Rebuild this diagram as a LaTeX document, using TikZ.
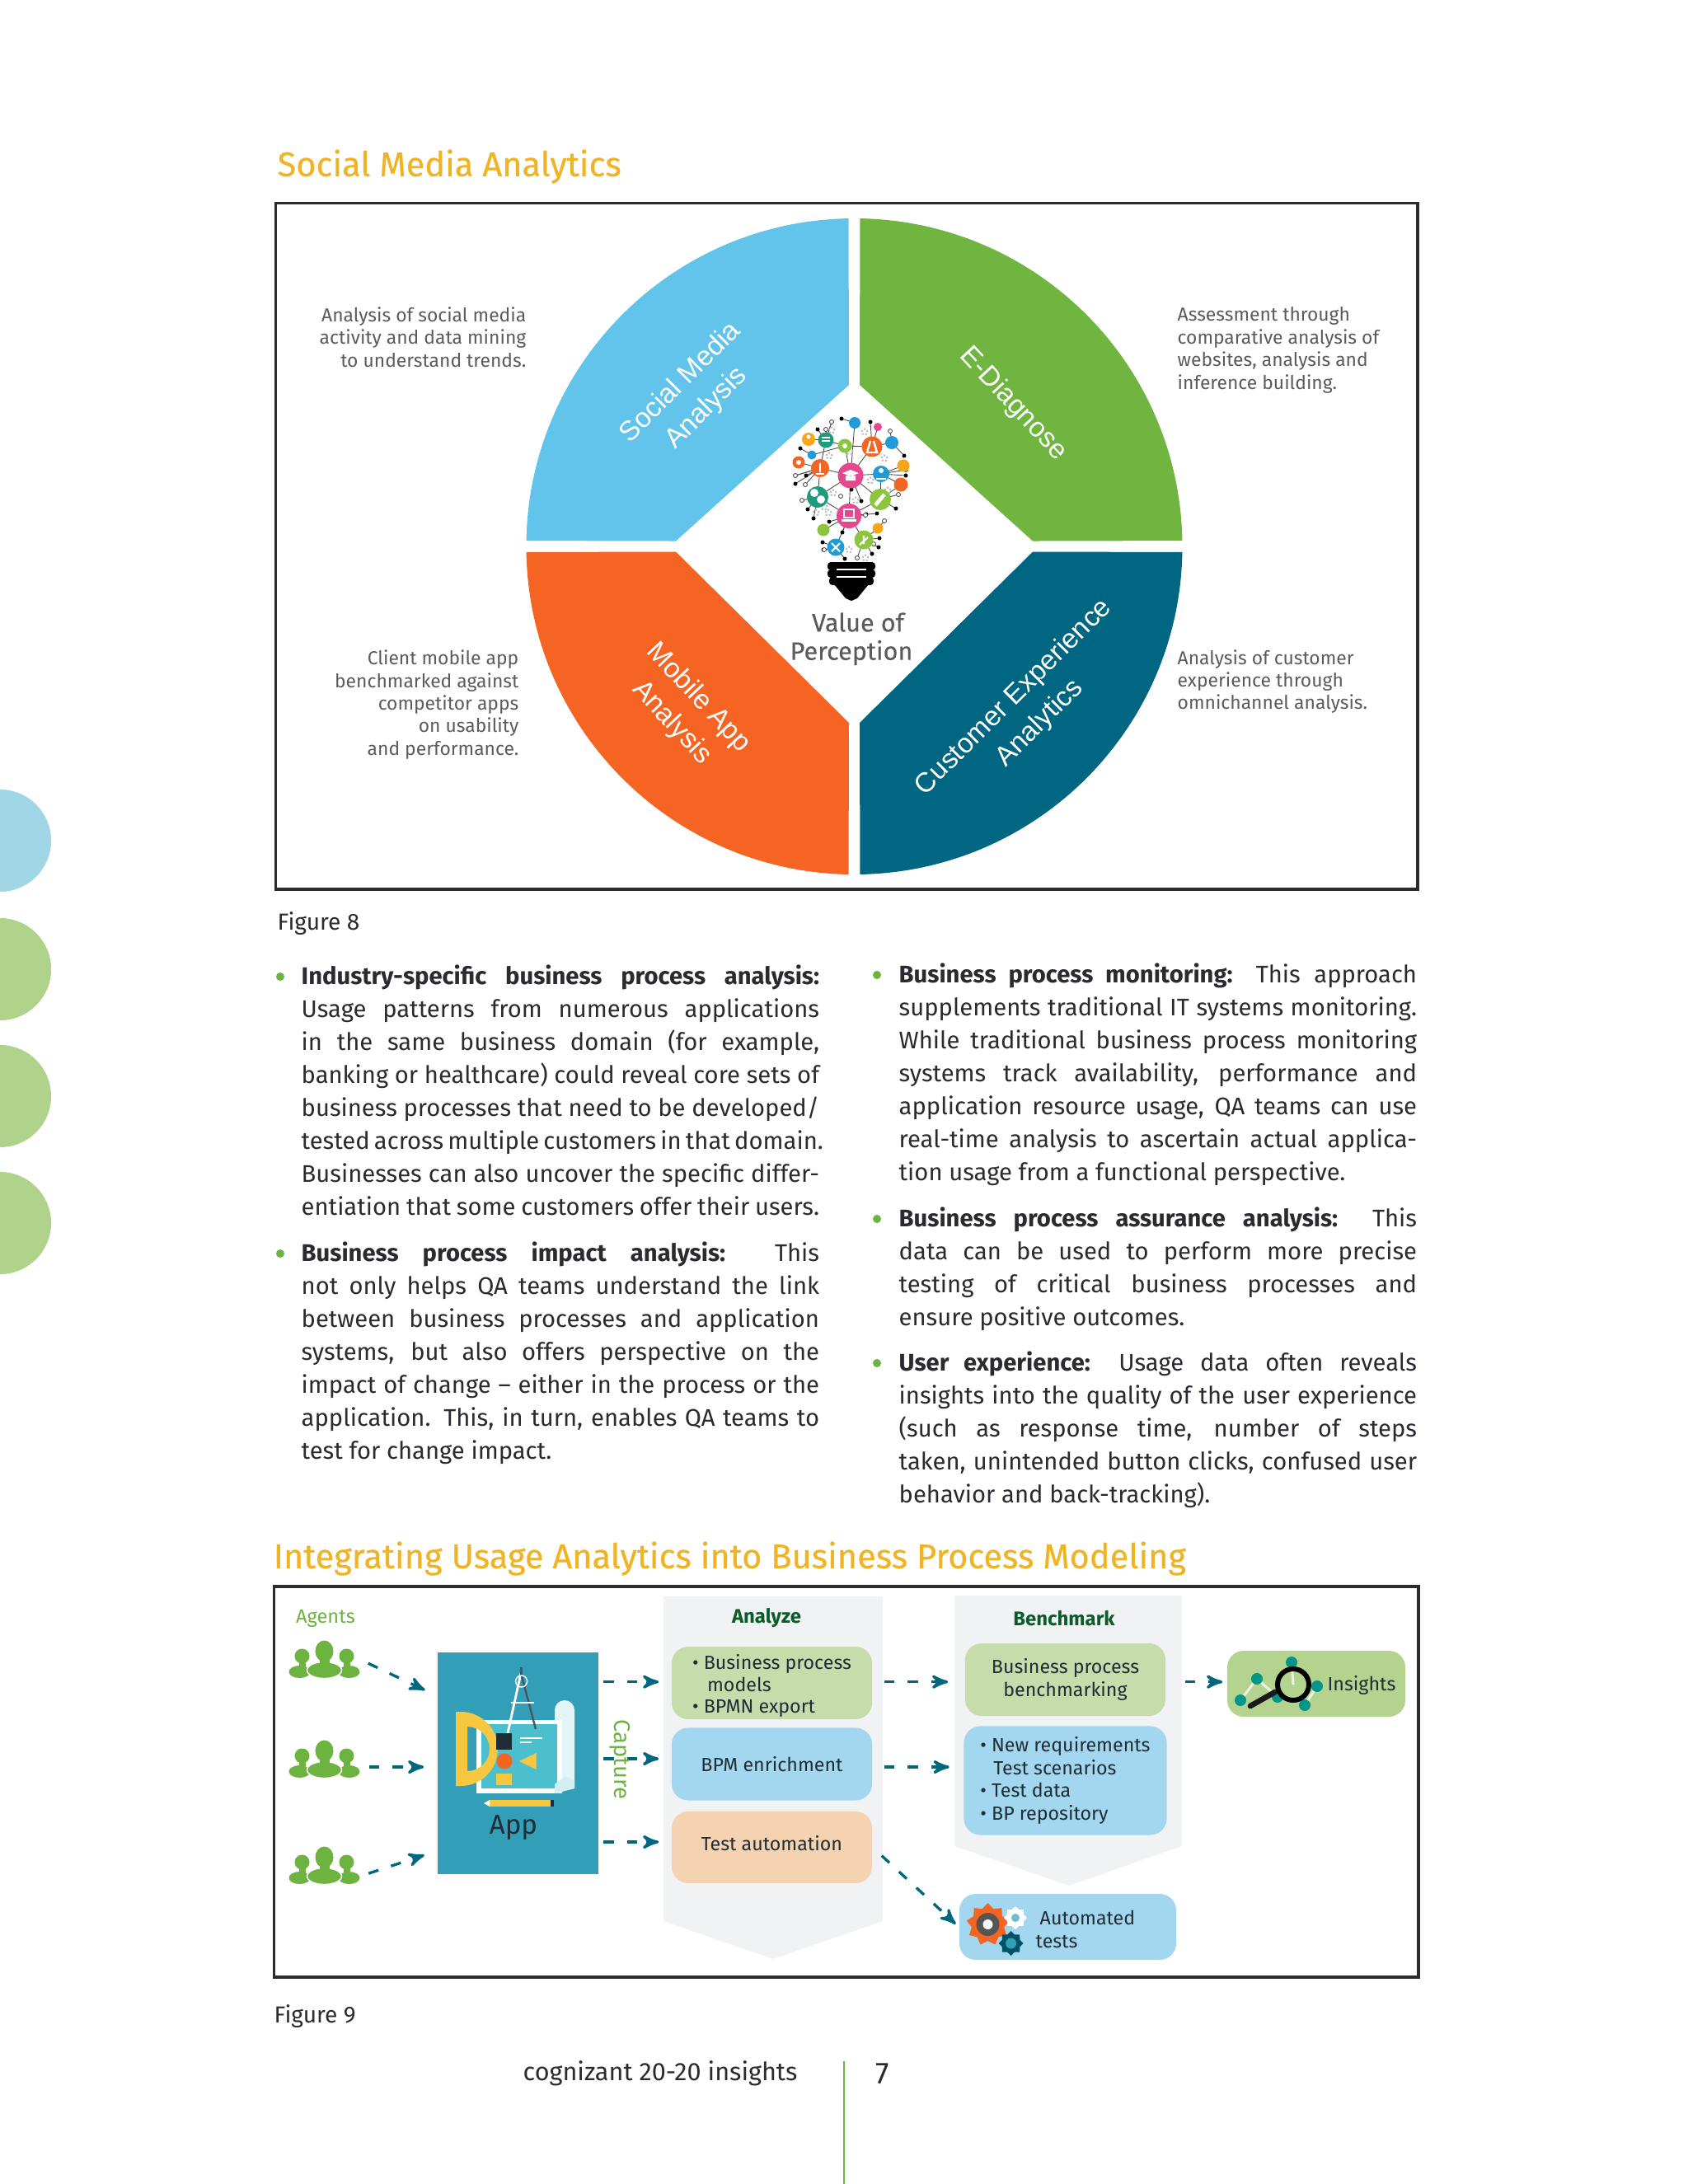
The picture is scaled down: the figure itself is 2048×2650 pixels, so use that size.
\documentclass[tikz,border=0pt]{standalone}
\usepackage{fontspec}
\setmainfont{Fira Sans}
\newfontfamily\sectorfont{Liberation Sans}
\newfontfamily\heavyfont[FakeBold=0.35]{Fira Sans}
\usetikzlibrary{arrows,positioning,shapes}
\definecolor{titlegold}{HTML}{F0B323}
\definecolor{framegrey}{HTML}{2B2B2B}
\definecolor{notegrey}{HTML}{5A5B5D}
\definecolor{bodyink}{HTML}{2A2A30}
\definecolor{skyslice}{HTML}{62C4EA}
\definecolor{grassslice}{HTML}{70B540}
\definecolor{orangeslice}{HTML}{F56423}
\definecolor{tealslice}{HTML}{006681}
\definecolor{leafgreen}{HTML}{6CB33F}
\definecolor{bluedot}{HTML}{A1D6E6}
\definecolor{greendot}{HTML}{AFD38B}
\definecolor{arrowteal}{HTML}{00677F}
\definecolor{appblue}{HTML}{339EB8}
\definecolor{chevgrey}{HTML}{F1F2F4}
\definecolor{headgreen}{HTML}{0B5C2A}
\definecolor{boxgreen}{HTML}{C6DCAB}
\definecolor{boxblue}{HTML}{A3D7F0}
\definecolor{boxpeach}{HTML}{F5D2B0}
\definecolor{boxolive}{HTML}{B4D38F}
\definecolor{boxink}{HTML}{1E2D36}
\definecolor{bulbpink}{HTML}{E6478F}
\definecolor{bulblime}{HTML}{8CC63F}
\definecolor{bulbjade}{HTML}{1E9A7E}
\definecolor{bulborange}{HTML}{F26522}
\definecolor{bulbblue}{HTML}{1F9CD8}
\definecolor{bulbyellow}{HTML}{F9A51A}
\definecolor{rulergold}{HTML}{F7C740}
\definecolor{sheetteal}{HTML}{4CBFCF}
\definecolor{magteal}{HTML}{009688}
\newcommand{\lline}[1]{\makebox[6.28cm][s]{#1}\\}
\tikzset{
    %Define standard arrow tip
    >=stealth',
    %Define style for text
    sectiontitle/.style={
             anchor=west, inner sep=0pt,
             text=titlegold,
             font=\heavyfont\fontsize{11.8}{14}\selectfont},
    figcaption/.style={
             anchor=west, inner sep=0pt,
             text=framegrey,
             font=\fontsize{8}{10}\selectfont},
    sidenote/.style={
             inner sep=0pt,
             text=notegrey,
             font=\fontsize{6.5}{7.8}\selectfont},
    slicelabel/.style={
             align=center, inner sep=0pt,
             text=white,
             font=\sectorfont\fontsize{9.5}{12.6}\selectfont},
    bodytext/.style={
             anchor=north west, inner sep=0pt, align=left,
             text=bodyink,
             font=\fontsize{8.3}{11.38}\selectfont},
    bulletdot/.style={
             circle, fill=leafgreen, inner sep=0pt,
             minimum size=0.1cm},
    %Define style for boxes
    frame/.style={
             draw=framegrey, line width=1pt},
    chevron/.style={
             fill=chevgrey},
    flowbox/.style={
             rectangle, rounded corners=0.2cm,
             inner sep=0pt, align=left,
             text=boxink,
             font=\fontsize{6.6}{7.9}\selectfont},
    headnode/.style={
             inner sep=0pt,
             text=headgreen,
             font=\bfseries\fontsize{6.8}{8}\selectfont},
    %Define style for the bulb
    bulbhub/.style={
             circle, inner sep=0pt},
    bulbdot/.style={
             circle, fill=black, inner sep=0pt,
             minimum size=0.05cm},
    bulbring/.style={
             circle, fill=white, draw=black!70, line width=0.25pt, inner sep=0pt,
             minimum size=0.05cm},
    bulbcog/.style={
             circle, draw=black!25, line width=0.6pt, dash pattern=on 0.6pt off 0.6pt, inner sep=0pt,
             minimum size=0.07cm},
    bulbwire/.style={
             draw=black!70, line width=0.25pt},
    % Define arrow style
    flowarrow/.style={
            ->,
            arrowteal,
            line width=0.95pt,
            dash pattern=on 0.126cm off 0.16cm}
}
\begin{document}
\begin{tikzpicture}[x=0.01cm, y=-0.01cm]
    \useasboundingbox (0,0) rectangle (2048,2650);
    % side discs
    \begin{scope}
        \clip (0,0) rectangle (2048,2650);
        \node[circle, fill=bluedot, minimum size=1.24cm] (discA) at (0,1020) {};
        \foreach \n/\y in {discB/1176, discC/1330, discD/1484}
            \node[circle, fill=greendot, minimum size=1.24cm] (\n) at (0,\y) {};
    \end{scope}
    \node[sectiontitle] (titleA) at (336,202) {Social Media Analytics};
    \draw[frame] (334.5,246.5) rectangle (1720,1079);
    % wheel
    \coordinate (hub) at (1036.5,663);
    \begin{scope}[shift={(hub)}, y=0.01cm]
        \fill[skyslice] (-6.5,196) -- (91:398) arc[start angle=91, end angle=179, radius=398] -- (-216.5,6.5) -- cycle;
        \fill[grassslice] (6.5,196) -- (89:398) arc[start angle=89, end angle=1, radius=398] -- (216.5,6.5) -- cycle;
        \fill[orangeslice] (-6.5,-214) -- (269:398) arc[start angle=269, end angle=181, radius=398] -- (-216.5,-6.5) -- cycle;
        \fill[tealslice] (6.5,-214) -- (271:398) arc[start angle=271, end angle=359, radius=398] -- (216.5,-6.5) -- cycle;
    \end{scope}
    \node[slicelabel, rotate=45] (sliceA) at (842,480) {Social Media\\Analysis};
    \node[slicelabel, rotate=-47] (sliceB) at (1229,490) {E-Diagnose};
    \node[slicelabel, rotate=-47] (sliceC) at (831,862) {Mobile App\\Analysis};
    \node[slicelabel, rotate=45] (sliceD) at (1246,862) {Customer Experience\\Analytics};
    \node[sidenote, anchor=east, align=right] (noteA) at (639,409) {Analysis of social media\\activity and data mining\\to understand trends.};
    \node[sidenote, anchor=west, align=left] (noteB) at (1428,425) {Assessment through\\comparative analysis of\\websites, analysis and\\inference building.};
    \node[sidenote, anchor=east, align=right] (noteC) at (630,855) {Client mobile app\\benchmarked against\\competitor apps\\on usability\\and performance.};
    \node[sidenote, anchor=west, align=left] (noteD) at (1428,827) {Analysis of customer\\experience through\\omnichannel analysis.};
    % bulb
    \foreach \n/\x/\y in {capb/1032/577, laptop/1030/626, torch/1068/606, globe/992/603, micro/995/568,
        flask/1058/542, chat/1002/534, atom/1025/541, note/981/533, water/985/552, gearb/969/561,
        abc/1037/513, eye/1065/518, sat/1082/537, bus/1096/565, people/1069/575, ruler/1093/588,
        search/1065/641, kick/1048/655, dna/999/643, scissors/1014/664}
        \coordinate (\n) at (\x,\y);
    \foreach \i/\x/\y in {1/1021/508, 2/1056/512, 3/992/521, 4/1009/512, 5/971/544, 6/965/577, 7/965/587,
        8/978/577, 9/1097/553, 10/1099/577, 11/1087/617, 12/1064/623, 13/1051/624, 14/1033/594, 15/1045/608,
        16/980/618, 17/987/629, 18/1006/633, 19/998/658, 20/999/667, 21/1022/646, 22/1025/678, 23/1066/664,
        24/1067/653, 25/1058/672}
        \coordinate (bd\i) at (\x,\y);
    \foreach \i/\x/\y in {1/1009/512, 2/965/577, 3/973/607, 4/977/588, 5/1020/602, 6/1050/625, 7/1073/632,
        8/1099/570, 9/1090/600, 10/1000/667, 11/1040/677, 12/1080/523, 13/1002/521, 14/1060/660}
        \coordinate (br\i) at (\x,\y);
    \foreach \a/\b in {capb/micro, capb/flask, capb/atom, capb/abc, capb/people, capb/torch, capb/globe, capb/laptop,
        laptop/torch, laptop/globe, laptop/kick, laptop/scissors, laptop/dna, micro/chat, chat/atom, atom/flask,
        micro/globe, flask/sat, people/bus, people/ruler, torch/ruler, torch/people, kick/search, micro/gearb,
        chat/note, flask/eye, atom/water, abc/bd1, flask/bd2, chat/bd3, chat/bd4, water/bd5, micro/bd6, micro/bd7,
        micro/bd8, sat/bd9, people/bd10, torch/bd11, laptop/bd12, laptop/bd13, capb/bd14, capb/bd15, globe/bd16,
        globe/bd17, laptop/bd18, scissors/bd19, scissors/bd20, laptop/bd21, scissors/bd22, kick/bd23, kick/bd24,
        kick/bd25, chat/br1, micro/br2, globe/br3, micro/br4, laptop/br6, search/br7, people/br8, torch/br9,
        scissors/br10, kick/br11, sat/br12, chat/br13, kick/br14}
        \path (\a) edge[bulbwire] (\b);
    \foreach \i in {1,...,25}
        \node[bulbdot] (bdot\i) at (bd\i) {};
    \foreach \i in {1,...,14}
        \node[bulbring] (bring\i) at (br\i) {};
    \foreach \i/\x/\y in {1/1009/522, 2/1049/524, 3/1006/553, 4/1073/556, 5/1005/622, 6/1056/583, 7/1011/598, 8/1038/607,
        9/990/622, 10/1030/667, 11/1050/677, 12/1077/595, 13/1031/548, 14/1000/615}
        \node[bulbcog] (bcog\i) at (\x,\y) {};
    \foreach \n/\c/\s in {capb/bulbpink/.31, laptop/bulbpink/.30, torch/bulblime/.26, globe/bulbjade/.26, micro/bulborange/.22,
        flask/bulborange/.25, chat/bulbjade/.19, atom/bulblime/.17, note/bulbyellow/.16, water/bulbblue/.11, gearb/bulborange/.15,
        abc/bulbblue/.14, eye/bulbpink/.10, sat/bulbblue/.16, bus/bulbyellow/.15, people/bulbblue/.20, ruler/bulborange/.17,
        search/bulbyellow/.13, kick/bulblime/.23, dna/bulblime/.15, scissors/bulbblue/.21}
        \node[bulbhub, fill=\c, minimum size=\s cm] (\n hub) at (\n) {};
    \fill[white] (1022,574) -- (1032,570) -- (1042,574) -- (1032,578) -- cycle (1026,577) rectangle (1038,583);
    \draw[white, line width=0.8pt] (1024,618) rectangle (1036,628);
    \fill[white] (1021,630) rectangle (1039,633);
    \draw[white, line width=0.7pt] (1056,535) -- (1052,549) -- (1064,549) -- (1060,535);
    \draw[white, line width=1.3pt] (1062,613) -- (1073,600);
    \fill[white] (988,598) circle [radius=0.05cm] (996,606) circle [radius=0.05cm];
    \draw[white, line width=0.7pt] (995,562) -- (995,573) (990,575) -- (1000,575);
    \draw[white, line width=0.6pt] (997,531) -- (1007,531) (997,535) -- (1007,535);
    \draw[white, line width=0.6pt] (1048,650) -- (1048,660) (1043,661) -- (1053,652);
    \draw[white, line width=0.6pt] (1009,659) -- (1019,669) (1019,659) -- (1009,669);
    \fill[white] (1069,571) circle [radius=0.03cm] (1063,580) rectangle (1075,582);
    \fill[white] (981,530) circle [radius=0.025cm] (1025,541) circle [radius=0.03cm] (969,561) circle [radius=0.03cm];
    % bulb base
    \fill[black, rounded corners=0.04cm] (1004,682) rectangle (1062,692);
    \fill[black, rounded corners=0.04cm] (1004,691) rectangle (1062,701);
    \fill[black, rounded corners=0.04cm] (1006,700) rectangle (1060,710);
    \fill[black] (1012,709) -- (1054,709) -- (1040,726) -- (1033,729) -- (1026,726) -- cycle;
    \draw[white, line width=0.4pt] (1015,691) -- (1051,691) (1015,700) -- (1051,700);
    \node[sidenote, font=\heavyfont\fontsize{8.7}{10}\selectfont] (valueA) at (1041,755) {Value of};
    \node[sidenote, font=\heavyfont\fontsize{8.7}{10}\selectfont] (valueB) at (1033,792) {Perception};
    \node[figcaption] (figA) at (336,1121) {Figure 8};
    % body columns
    \node[bulletdot] (dotA) at (340,1185) {};
    \node[bodytext] (itemA) at (365,1170) {%
        \lline{\textbf{Industry-specific business process analysis:}}
        \lline{Usage patterns from numerous applications}
        \lline{in the same business domain (for example,}
        \lline{banking or healthcare) could reveal core sets of}
        \lline{business processes that need to be developed/}
        \lline{tested across multiple customers in that domain.}
        \lline{Businesses can also uncover the specific differ-}
        \lline{entiation that some customers offer their users.}};
    \node[bulletdot] (dotB) at (340,1521) {};
    \node[bodytext] (itemB) at (365,1506) {%
        \lline{\textbf{Business process impact analysis:} This}
        \lline{not only helps QA teams understand the link}
        \lline{between business processes and application}
        \lline{systems, but also offers perspective on the}
        \lline{impact of change – either in the process or the}
        \lline{application. This, in turn, enables QA teams to}
        test for change impact.};
    \node[bulletdot] (dotC) at (1064,1183) {};
    \node[bodytext] (itemC) at (1090,1168) {%
        \lline{\textbf{Business process monitoring:} This approach}
        \lline{supplements traditional IT systems monitoring.}
        \lline{While traditional business process monitoring}
        \lline{systems track availability, performance and}
        \lline{application resource usage, QA teams can use}
        \lline{real-time analysis to ascertain actual applica-}
        tion usage from a functional perspective.};
    \node[bulletdot] (dotD) at (1064,1479) {};
    \node[bodytext] (itemD) at (1090,1464) {%
        \lline{\textbf{Business process assurance analysis:} This}
        \lline{data can be used to perform more precise}
        \lline{testing of critical business processes and}
        ensure positive outcomes.};
    \node[bulletdot] (dotE) at (1064,1654) {};
    \node[bodytext] (itemE) at (1090,1639) {%
        \lline{\textbf{User experience:} Usage data often reveals}
        \lline{insights into the quality of the user experience}
        \lline{(such as response time, number of steps}
        \lline{taken, unintended button clicks, confused user}
        behavior and back-tracking).};
    % second figure
    \node[sectiontitle] (titleB) at (331,1891) {Integrating Usage Analytics into Business Process Modeling};
    \draw[frame] (332.5,1925) rectangle (1721,2399);
    \node[sidenote, anchor=center, text=leafgreen, font=\fontsize{6.7}{8}\selectfont] (agentshead) at (395,1964) {Agents};
    % agents
    \foreach \n/\y in {agentA/2013.5, agentB/2134.5, agentC/2263.5} {
        \node[minimum width=0.85cm, minimum height=0.45cm, inner sep=0pt] (\n) at (393.5,\y) {};
        \begin{scope}[shift={(\n)}]
            \fill[leafgreen] (-27,-4) ellipse [x radius=0.09cm, y radius=0.09cm];
            \fill[leafgreen] (-30,15) ellipse [x radius=0.13cm, y radius=0.075cm];
            \fill[leafgreen] (-31,3) rectangle (-23,14);
            \fill[leafgreen] (27,-4) ellipse [x radius=0.09cm, y radius=0.09cm];
            \fill[leafgreen] (30,15) ellipse [x radius=0.13cm, y radius=0.075cm];
            \fill[leafgreen] (23,3) rectangle (31,14);
            \fill[leafgreen] (0,-10) ellipse [x radius=0.11cm, y radius=0.13cm];
            \fill[leafgreen, draw=white, line width=0.4pt] (0,13) ellipse [x radius=0.21cm, y radius=0.10cm];
            \fill[leafgreen] (-6,0) rectangle (6,6);
        \end{scope}
    }
    % app
    \node[rectangle, fill=appblue, minimum width=1.95cm, minimum height=2.69cm, inner sep=0pt] (app) at (628.5,2139.5) {};
    \begin{scope}[shift={(685,2075)}, y=0.01cm]
        \fill[white!85!sheetteal] (-12,0) arc[start angle=180, end angle=0, radius=12] -- (12,-95) -- (-12,-101) -- cycle;
    \end{scope}
    \fill[white] (578,2087) rectangle (682,2176);
    \fill[sheetteal] (584,2092) rectangle (676,2170);
    \fill[white!75!sheetteal] (673,2176) -- (697,2170) -- (697,2160) -- (685,2155) -- (673,2165) -- cycle;
    \draw[white, line width=0.8pt] (632,2030) -- (616,2103);
    \draw[boxink!80, line width=0.7pt] (632,2030) -- (650,2098);
    \draw[boxink!80, line width=1pt] (632.6,2023) -- (632.6,2034);
    \draw[white, line width=0.4pt] (632.6,2040) circle [radius=0.07cm];
    \draw[white, line width=0.4pt] (620,2066) -- (648,2066);
    \begin{scope}[shift={(553,2122)}, y=0.01cm]
        \fill[rulergold, even odd rule] (0,45) -- (6,45) arc[start angle=90, end angle=-90, radius=45] -- (0,-45) -- cycle
            (14,27) -- (14,-27) arc[start angle=-90, end angle=90, radius=27] -- cycle;
    \end{scope}
    \fill[boxink] (602,2103) rectangle (621,2123);
    \fill[orangeslice] (612,2137) circle [radius=0.095cm];
    \fill[rulergold] (630,2137) -- (650.6,2127) -- (650.6,2147) -- cycle;
    \fill[rulergold] (602,2152) rectangle (621,2166);
    \draw[white, line width=0.6pt] (631,2109) -- (658,2109) (631,2114) -- (645,2114);
    \fill[rulergold] (594,2184) rectangle (668,2192);
    \fill[white] (587,2188) -- (594,2184) -- (594,2192) -- cycle;
    \fill[boxink] (668,2184) rectangle (672,2192);
    \node[inner sep=0pt, text=boxink, font=\fontsize{9.4}{11}\selectfont] (applabel) at (623,2218) {App};
    % process chevrons
    \fill[chevron] (805,1937) -- (1071,1937) -- (1071,2331) -- (938,2377) -- (805,2331) -- cycle;
    \fill[chevron] (1158,1936) -- (1434,1936) -- (1434,2240) -- (1297,2288) -- (1158,2240) -- cycle;
    \node[headnode] (analyze) at (930,1963) {Analyze};
    \node[headnode] (benchmark) at (1291,1964) {Benchmark};
    \node[flowbox, fill=boxgreen, minimum width=2.43cm, minimum height=0.88cm] (businessmodels) at (936.5,2042) {\rule{0pt}{0.25cm}• Business process\\[-0.3pt]\hspace*{0.18cm}models\\[-0.3pt]• BPMN export};
    \node[flowbox, fill=boxblue, minimum width=2.43cm, minimum height=0.88cm, below=0.09cm of businessmodels] (enrichment) {BPM enrichment};
    \node[flowbox, fill=boxpeach, minimum width=2.43cm, minimum height=0.87cm, below=0.12cm of enrichment] (testauto) {\rule[-0.10cm]{0pt}{0pt}Test automation};
    \node[flowbox, fill=boxgreen, align=center, minimum width=2.43cm, minimum height=0.88cm] (bpbench) at (1292.5,2038) {Business process\\benchmarking};
    \node[flowbox, fill=boxblue, minimum width=2.46cm, minimum height=1.32cm, below=0.11cm of bpbench] (requirements) {• New requirements\\\hspace*{0.16cm}Test scenarios\\• Test data\\• BP repository};
    % results
    \node[flowbox, fill=boxolive, minimum width=2.16cm, minimum height=0.80cm] (insights) at (1597,2043) {};
    \node[inner sep=0pt, text=boxink, font=\fontsize{6.6}{8}\selectfont] (insightslabel) at (1652,2045) {Insights};
    \node[flowbox, fill=boxblue, minimum width=2.63cm, minimum height=0.80cm] (autotests) at (1295.5,2338) {};
    \node[inner sep=0pt, align=left, text=boxink, font=\fontsize{6.6}{8}\selectfont, anchor=west] (autolabel) at (1256,2341) {\hspace*{0.05cm}Automated\\tests};
    % magnifier
    \draw[white!70!boxolive, line width=0.9pt] (1505,2063) -- (1525,2037) -- (1550,2059) (1567,2017) -- (1569,2044) (1598,2046) -- (1583,2069);
    \foreach \n/\x/\y in {markA/1505/2063, markB/1525/2037, markC/1567/2017, markD/1598/2046, markE/1583/2069, markF/1550/2059}
        \node[circle, fill=magteal, minimum size=0.14cm, inner sep=0pt] (\n) at (\x,\y) {};
    \draw[framegrey!60!black, line width=1.9pt, line cap=round] (1547,2053) -- (1517,2070);
    \node[circle, draw=black, line width=1.7pt, minimum size=0.38cm, inner sep=0pt] (lens) at (1569,2044) {};
    % gears
    \node[star, star points=9, star point ratio=1.3, fill=bulborange, minimum size=0.52cm, inner sep=0pt] (gearA) at (1198.5,2335) {};
    \node[circle, fill=framegrey!80, minimum size=0.28cm, inner sep=0pt] (gearAin) at (gearA) {};
    \node[circle, fill=white, minimum size=0.12cm, inner sep=0pt] (gearAcore) at (gearA) {};
    \node[star, star points=8, star point ratio=1.3, fill=white, minimum size=0.28cm, inner sep=0pt] (gearB) at (1232,2327) {};
    \node[circle, fill=appblue!70, minimum size=0.10cm, inner sep=0pt] (gearBin) at (gearB) {};
    \node[star, star points=8, star point ratio=1.3, fill=tealslice!80!black, minimum size=0.30cm, inner sep=0pt] (gearC) at (1226.6,2358) {};
    \node[circle, fill=appblue, minimum size=0.13cm, inner sep=0pt] (gearCin) at (gearC) {};
    % rows of the arrows
    \coordinate (rowA) at (0,2040.7);
    \coordinate (rowB) at (0,2134);
    \coordinate (rowC) at (0,2235);
    \coordinate (rowD) at (0,2144);
    \coordinate (rowE) at (0,2276.6);
    \coordinate (appinA) at (531,2058);
    \coordinate (appinC) at (531,2245.5);
    \path (agentA.east) edge[flowarrow, shorten <=0.11cm, shorten >=0.17cm] (appinA)
    (agentB.east |- rowD) edge[flowarrow, shorten <=0.11cm, shorten >=0.16cm] (app.west |- rowD)
    (agentC.east |- rowE) edge[flowarrow, shorten <=0.11cm, shorten >=0.17cm] (appinC)
    (app.east |- rowA) edge[flowarrow, shorten <=0.055cm, shorten >=0.15cm] (businessmodels.west |- rowA)
    (app.east |- rowB) edge[flowarrow, shorten <=0.055cm, shorten >=0.15cm] (enrichment.west |- rowB)
    (app.east |- rowC) edge[flowarrow, shorten <=0.055cm, shorten >=0.15cm] (testauto.west |- rowC)
    (businessmodels.east |- rowA) edge[flowarrow, shorten <=0.14cm, shorten >=0.20cm] (bpbench.west |- rowA)
    (enrichment.east |- rowD) edge[flowarrow, shorten <=0.14cm, shorten >=0.17cm] (requirements.west |- rowD)
    (bpbench.east |- rowA) edge[flowarrow, shorten <=0.23cm, shorten >=0.05cm] (insights.west |- rowA)
    (testauto.east) edge[flowarrow, shorten <=0.15cm, shorten >=0.05cm] (autotests.west);
    \node[inner sep=0pt, rotate=-90, text=leafgreen, font=\fontsize{7.8}{8}\selectfont] (capturetext) at (752,2135) {Capture};
    \node[figcaption] (figB) at (332,2446) {Figure 9};
    % footer
    \node[inner sep=0pt, text=framegrey, font=\fontsize{8.7}{10}\selectfont, anchor=west] (footer) at (634,2516) {cognizant 20-20 insights};
    \node[inner sep=0pt, text=framegrey, font=\fontsize{10.5}{12}\selectfont] (pageno) at (1071,2516) {7};
    \coordinate (rulefoot) at (1024,2650);
    \node[inner sep=0pt] (ruletop) at (1024,2499) {};
    \path (ruletop) edge[draw=leafgreen, line width=0.5pt] (rulefoot);
\end{tikzpicture}
\end{document}
